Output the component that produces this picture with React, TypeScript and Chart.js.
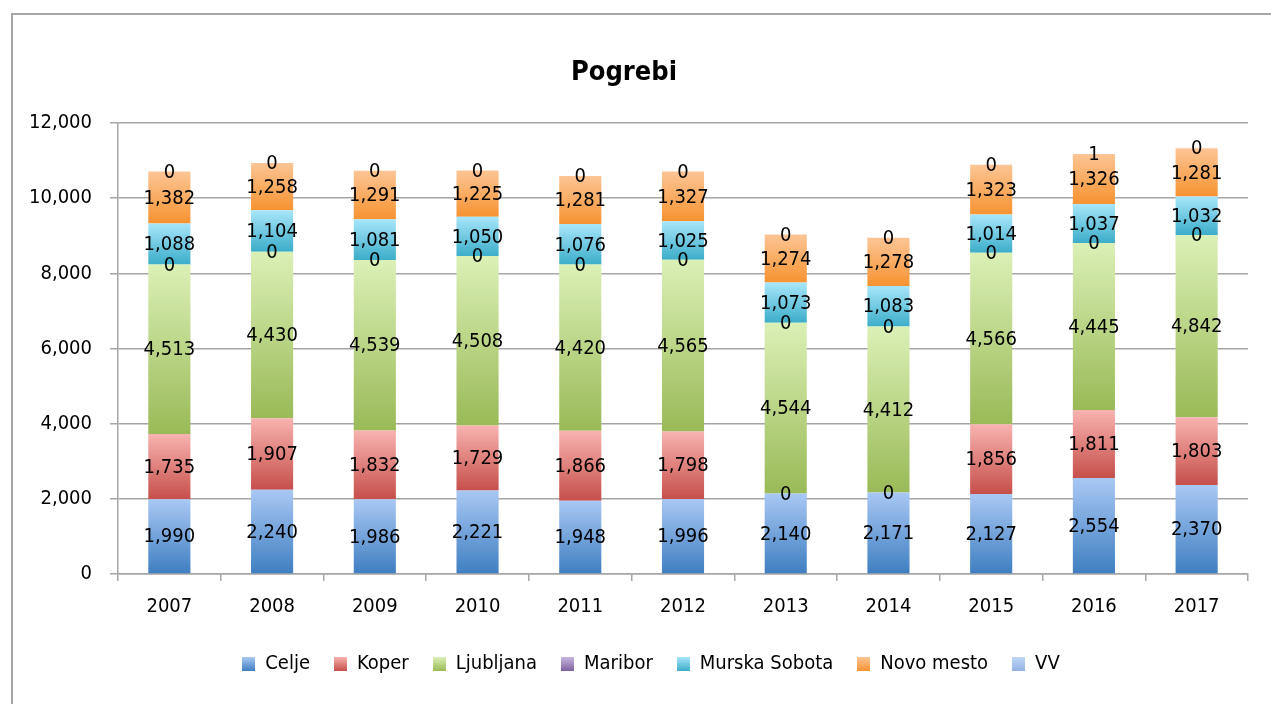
import React, { useEffect, useRef } from "react";
import { Chart, registerables } from "chart.js";

Chart.register(...registerables);

const categories = ["2007", "2008", "2009", "2010", "2011", "2012", "2013", "2014", "2015", "2016", "2017"];
const seriesNames = ["Celje", "Koper", "Ljubljana", "Maribor", "Murska Sobota", "Novo mesto", "VV"];
const celje = [1990, 2240, 1986, 2221, 1948, 1996, 2140, 2171, 2127, 2554, 2370];
const koper = [1735, 1907, 1832, 1729, 1866, 1798, 0, 0, 1856, 1811, 1803];
const ljubljana = [4513, 4430, 4539, 4508, 4420, 4565, 4544, 4412, 4566, 4445, 4842];
const maribor = [0, 0, 0, 0, 0, 0, 0, 0, 0, 0, 0];
const murskaSobota = [1088, 1104, 1081, 1050, 1076, 1025, 1073, 1083, 1014, 1037, 1032];
const novoMesto = [1382, 1258, 1291, 1225, 1281, 1327, 1274, 1278, 1323, 1326, 1281];
const vv = [0, 0, 0, 0, 0, 0, 0, 0, 0, 1, 0];
const yTicks = [0, 2000, 4000, 6000, 8000, 10000, 12000];

const seriesValues = [celje, koper, ljubljana, maribor, murskaSobota, novoMesto, vv];
const topColors = ["#a9c8f4", "#f8b3b0", "#dbf0b6", "#c7b7de", "#a8e6fa", "#fcc595", "#c0d7f7"];
const bottomColors = ["#3f7fc1", "#c64f4a", "#9aba57", "#7e61a1", "#3cadc9", "#f79331", "#92b2e3"];
const midColors = ["#7aa6dc", "#e08480", "#bdd888", "#a08cc0", "#72cbe2", "#faab62", "#a9c4ee"];

const FONT = '"Liberation Sans Narrow", "DejaVu Sans Condensed", "Roboto Condensed", sans-serif';
const fmt = (v: number) => v.toLocaleString("en-US");

function legendSwatch(i: number): HTMLCanvasElement {
  const c = document.createElement("canvas");
  c.width = 13;
  c.height = 14;
  const cx = c.getContext("2d")!;
  const g = cx.createLinearGradient(0, 0, 0, 14);
  g.addColorStop(0, topColors[i]);
  g.addColorStop(1, bottomColors[i]);
  cx.fillStyle = g;
  cx.fillRect(0, 0, 13, 14);
  return c;
}

const gradientPlugin = {
  id: "segGradient",
  afterLayout(chart: any) {
    if (chart.legend) {
      chart.legend.left += 27;
      chart.legend.right += 27;
    }
  },
  beforeDatasetsDraw(chart: any) {
    const ctx = chart.ctx;
    chart.data.datasets.forEach((_ds: any, di: number) => {
      const meta = chart.getDatasetMeta(di);
      meta.data.forEach((el: any) => {
        const top = Math.min(el.y, el.base);
        const bot = Math.max(el.y, el.base);
        if (!isFinite(top) || !isFinite(bot) || bot - top < 0.01) return;
        const g = ctx.createLinearGradient(0, top, 0, bot);
        g.addColorStop(0, topColors[di]);
        g.addColorStop(1, bottomColors[di]);
        el.options = Object.assign({}, el.options, { backgroundColor: g, $shared: false });
      });
    });
  },
};

const labelPlugin = {
  id: "segLabels",
  afterDatasetsDraw(chart: any) {
    const ctx = chart.ctx;
    ctx.save();
    ctx.font = `20px ${FONT}`;
    ctx.fillStyle = "#000";
    ctx.textAlign = "center";
    ctx.textBaseline = "middle";
    chart.data.datasets.forEach((ds: any, di: number) => {
      const meta = chart.getDatasetMeta(di);
      meta.data.forEach((el: any, i: number) => {
        const v = ds.data[i];
        ctx.fillText(fmt(v), el.x, (el.y + el.base) / 2 + 1);
      });
    });
    ctx.restore();
  },
};

export default function App() {
  const ref = useRef<HTMLCanvasElement | null>(null);

  useEffect(() => {
    if (!ref.current) return;
    const swatches = seriesNames.map((_n, i) => legendSwatch(i));
    const chart = new Chart(ref.current, {
      type: "bar",
      data: {
        labels: categories,
        datasets: seriesNames.map((name, i) => ({
          label: name,
          data: seriesValues[i],
          backgroundColor: midColors[i],
          borderWidth: 0,
          categoryPercentage: 1,
          barPercentage: 0.41,
        })),
      },
      options: {
        animation: false,
        responsive: false,
        maintainAspectRatio: false,
        layout: { padding: { left: 0, right: 23, top: 0, bottom: 20 } },
        plugins: {
          title: {
            display: true,
            text: "Pogrebi",
            color: "#000",
            font: { family: FONT, size: 27, weight: "bold" },
            padding: { top: 57, bottom: 33.6 },
          },
          legend: {
            position: "bottom",
            labels: {
              color: "#000",
              font: { family: FONT, size: 20 },
              boxWidth: 13,
              boxHeight: 14,
              padding: 24,
              usePointStyle: true,
              generateLabels: (ch: any) => {
                const items = Chart.defaults.plugins.legend.labels.generateLabels(ch);
                return items.map((it: any, i: number) => ({ ...it, pointStyle: swatches[i], lineWidth: 0 }));
              },
            },
          },
          tooltip: { enabled: false },
        },
        scales: {
          x: {
            stacked: true,
            grid: {
              display: true,
              drawOnChartArea: false,
              drawTicks: true,
              tickLength: 7,
              color: "#a6a6a6",
              lineWidth: 1.5,
            },
            border: { display: true, color: "#a6a6a6", width: 1.5 },
            ticks: { color: "#000", font: { family: FONT, size: 20 }, padding: 14 },
            afterFit: (s: any) => {
              s.height = 56;
            },
          },
          y: {
            stacked: true,
            min: 0,
            max: 12000,
            afterBuildTicks: (s: any) => {
              s.ticks = yTicks.map((v) => ({ value: v }));
            },
            grid: { color: "#a6a6a6", lineWidth: 1.5, tickLength: 8, drawTicks: true },
            border: { display: true, color: "#a6a6a6", width: 1.5 },
            ticks: {
              color: "#000",
              font: { family: FONT, size: 20 },
              padding: 18,
              callback: (v: any) => fmt(Number(v)),
            },
            afterFit: (s: any) => {
              s.width = 118;
            },
          },
        },
      },
      plugins: [gradientPlugin, labelPlugin],
    } as any);
    return () => chart.destroy();
  }, []);

  return (
    <div
      style={{
        position: "fixed",
        left: 0,
        top: 0,
        width: 1271,
        height: 704,
        overflow: "hidden",
        background: "#fff",
      }}
    >
      <div
        style={{
          position: "absolute",
          left: 11,
          top: 13,
          width: 1400,
          height: 900,
          border: "2px solid #a6a6a6",
          boxSizing: "border-box",
        }}
      />
      <canvas ref={ref} width={1271} height={704} style={{ position: "absolute", left: 0, top: 0, width: 1271, height: 704 }} />
    </div>
  );
}
